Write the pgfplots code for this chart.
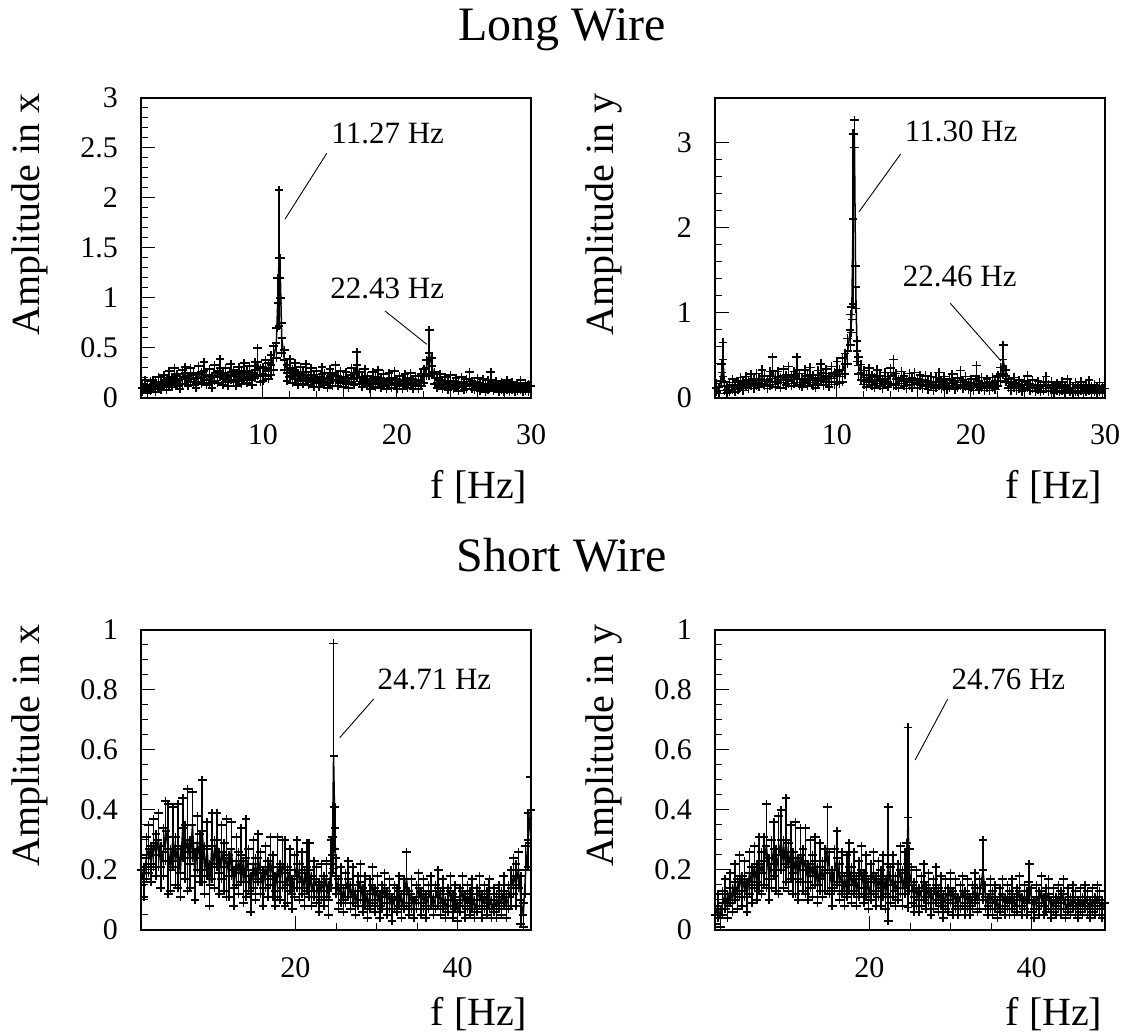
\documentclass[border=0pt]{standalone}
\usepackage{fontspec}
\setmainfont{Liberation Serif}
\usepackage{pgfplots}
\usepackage{pgfplotstable}
\pgfplotsset{compat=1.18}

% long wire, x
\pgfplotstableread{
f a e
1.0 0.10 0.04
1.2 0.13 0.05
1.4 0.09 0.04
1.6 0.12 0.05
1.8 0.14 0.04
2.0 0.11 0.05
2.2 0.15 0.06
2.4 0.12 0.04
2.6 0.17 0.06
2.8 0.13 0.05
3.0 0.20 0.07
3.2 0.16 0.05
3.4 0.22 0.08
3.6 0.18 0.06
3.8 0.14 0.05
4.0 0.21 0.07
4.2 0.25 0.06
4.4 0.17 0.05
4.6 0.23 0.07
4.8 0.19 0.06
5.0 0.15 0.05
5.2 0.24 0.08
5.4 0.20 0.06
5.6 0.27 0.09
5.8 0.18 0.05
6.0 0.22 0.07
6.2 0.16 0.06
6.4 0.25 0.08
6.6 0.21 0.06
6.8 0.30 0.09
7.0 0.19 0.06
7.2 0.23 0.07
7.4 0.17 0.05
7.6 0.26 0.08
7.8 0.22 0.06
8.0 0.18 0.06
8.2 0.24 0.07
8.4 0.20 0.06
8.6 0.27 0.08
8.8 0.21 0.06
9.0 0.25 0.07
9.2 0.19 0.06
9.4 0.28 0.08
9.6 0.36 0.14
9.8 0.23 0.07
10.0 0.24 0.07
10.2 0.30 0.08
10.4 0.27 0.08
10.6 0.33 0.10
10.8 0.40 0.12
11.0 0.55 0.15
11.1 0.95 0.25
11.2 1.40 0.68
11.3 1.20 0.20
11.4 0.60 0.15
11.6 0.38 0.10
11.8 0.25 0.08
12.0 0.30 0.09
12.2 0.22 0.07
12.4 0.27 0.08
12.6 0.19 0.06
12.8 0.24 0.07
13.0 0.20 0.06
13.2 0.26 0.08
13.4 0.18 0.05
13.6 0.23 0.07
13.8 0.17 0.06
14.0 0.21 0.06
14.2 0.16 0.05
14.4 0.24 0.07
14.6 0.19 0.06
14.8 0.15 0.05
15.0 0.22 0.07
15.2 0.18 0.06
15.4 0.25 0.08
15.6 0.17 0.05
15.8 0.21 0.06
16.0 0.16 0.05
16.2 0.20 0.06
16.4 0.15 0.05
16.6 0.23 0.07
16.8 0.19 0.06
17.0 0.33 0.13
17.2 0.20 0.06
17.4 0.16 0.05
17.6 0.22 0.07
17.8 0.17 0.05
18.0 0.14 0.05
18.2 0.20 0.06
18.4 0.16 0.05
18.6 0.21 0.07
18.8 0.15 0.05
19.0 0.18 0.06
19.2 0.13 0.04
19.4 0.19 0.06
19.6 0.15 0.05
19.8 0.20 0.07
20.0 0.14 0.05
20.2 0.17 0.05
20.4 0.13 0.04
20.6 0.18 0.06
20.8 0.15 0.05
21.0 0.19 0.06
21.2 0.14 0.05
21.4 0.17 0.05
21.6 0.13 0.04
21.8 0.18 0.06
22.0 0.22 0.07
22.2 0.30 0.08
22.4 0.45 0.23
22.6 0.32 0.08
22.8 0.20 0.06
23.0 0.15 0.05
23.2 0.18 0.06
23.4 0.13 0.04
23.6 0.16 0.05
23.8 0.12 0.04
24.0 0.17 0.06
24.2 0.13 0.04
24.4 0.15 0.05
24.6 0.11 0.04
24.8 0.16 0.05
25.0 0.12 0.04
25.2 0.14 0.05
25.4 0.19 0.07
25.6 0.13 0.04
25.8 0.12 0.04
26.0 0.15 0.05
26.2 0.11 0.04
26.4 0.14 0.05
26.6 0.10 0.04
26.8 0.13 0.05
27.0 0.18 0.08
27.2 0.11 0.04
27.4 0.13 0.04
27.6 0.10 0.04
27.8 0.12 0.04
28.0 0.09 0.03
28.2 0.13 0.05
28.4 0.10 0.04
28.6 0.12 0.04
28.8 0.09 0.03
29.0 0.11 0.04
29.2 0.13 0.05
29.4 0.09 0.03
29.6 0.11 0.04
29.8 0.10 0.04
30.0 0.12 0.04
}\longx

% long wire, y
\pgfplotstableread{
f a e
1.0 0.12 0.05
1.2 0.09 0.04
1.4 0.30 0.10
1.5 0.45 0.20
1.6 0.14 0.05
1.8 0.10 0.04
2.0 0.13 0.05
2.2 0.16 0.06
2.4 0.11 0.04
2.6 0.15 0.05
2.8 0.18 0.06
3.0 0.14 0.05
3.2 0.19 0.06
3.4 0.16 0.05
3.6 0.21 0.07
3.8 0.17 0.06
4.0 0.22 0.07
4.2 0.18 0.05
4.4 0.25 0.08
4.6 0.20 0.06
4.8 0.16 0.05
5.0 0.23 0.08
5.2 0.32 0.16
5.4 0.19 0.06
5.6 0.24 0.07
5.8 0.18 0.06
6.0 0.26 0.08
6.2 0.21 0.06
6.4 0.27 0.10
6.6 0.20 0.06
6.8 0.24 0.07
7.0 0.33 0.15
7.2 0.22 0.07
7.4 0.18 0.05
7.6 0.25 0.08
7.8 0.20 0.06
8.0 0.27 0.09
8.2 0.21 0.06
8.4 0.17 0.05
8.6 0.24 0.08
8.8 0.30 0.10
9.0 0.22 0.07
9.2 0.26 0.08
9.4 0.19 0.06
9.6 0.28 0.09
9.8 0.23 0.07
10.0 0.31 0.12
10.2 0.25 0.08
10.4 0.33 0.14
10.6 0.40 0.12
10.8 0.55 0.15
11.0 0.80 0.18
11.1 0.92 0.15
11.2 2.10 1.00
11.3 3.10 0.16
11.4 1.30 0.25
11.5 0.55 0.12
11.6 0.38 0.10
11.8 0.30 0.09
12.0 0.24 0.08
12.2 0.20 0.07
12.4 0.27 0.08
12.6 0.21 0.06
12.8 0.18 0.06
13.0 0.25 0.08
13.2 0.20 0.06
13.4 0.16 0.05
13.6 0.23 0.07
13.8 0.19 0.06
14.0 0.26 0.09
14.2 0.30 0.15
14.4 0.22 0.07
14.6 0.17 0.05
14.8 0.24 0.07
15.0 0.20 0.06
15.2 0.16 0.05
15.4 0.22 0.07
15.6 0.18 0.06
15.8 0.23 0.07
16.0 0.17 0.05
16.2 0.21 0.06
16.4 0.16 0.05
16.6 0.20 0.06
16.8 0.15 0.05
17.0 0.19 0.06
17.2 0.14 0.05
17.4 0.18 0.06
17.6 0.22 0.08
17.8 0.16 0.05
18.0 0.19 0.06
18.2 0.14 0.04
18.4 0.17 0.05
18.6 0.21 0.07
18.8 0.15 0.05
19.0 0.18 0.06
19.2 0.23 0.09
19.4 0.16 0.05
19.6 0.19 0.06
19.8 0.14 0.04
20.0 0.17 0.05
20.2 0.13 0.04
20.4 0.26 0.12
20.6 0.15 0.05
20.8 0.18 0.06
21.0 0.13 0.04
21.2 0.17 0.05
21.4 0.14 0.05
21.6 0.18 0.06
21.8 0.15 0.05
22.0 0.20 0.06
22.2 0.28 0.08
22.4 0.45 0.17
22.6 0.26 0.07
22.8 0.17 0.05
23.0 0.14 0.05
23.2 0.18 0.06
23.4 0.13 0.04
23.6 0.16 0.05
23.8 0.12 0.04
24.0 0.15 0.05
24.2 0.19 0.07
24.4 0.13 0.04
24.6 0.16 0.05
24.8 0.12 0.04
25.0 0.15 0.05
25.2 0.11 0.04
25.4 0.14 0.05
25.6 0.18 0.07
25.8 0.12 0.04
26.0 0.14 0.05
26.2 0.10 0.04
26.4 0.13 0.04
26.6 0.11 0.04
26.8 0.14 0.05
27.0 0.10 0.04
27.2 0.16 0.06
27.4 0.12 0.04
27.6 0.09 0.03
27.8 0.13 0.05
28.0 0.11 0.04
28.2 0.14 0.05
28.4 0.10 0.04
28.6 0.12 0.04
28.8 0.15 0.06
29.0 0.10 0.04
29.2 0.12 0.04
29.4 0.09 0.03
29.6 0.13 0.05
29.8 0.10 0.04
30.0 0.11 0.04
}\longy

% short wire, x
\pgfplotstableread{
f a e
1.0 0.20 0.05
1.3 0.16 0.05
1.6 0.24 0.07
1.9 0.27 0.08
2.2 0.22 0.06
2.5 0.29 0.08
2.8 0.25 0.07
3.1 0.30 0.09
3.4 0.21 0.07
3.7 0.26 0.08
4.0 0.33 0.10
4.3 0.27 0.15
4.6 0.20 0.07
4.9 0.31 0.10
5.2 0.23 0.08
5.5 0.28 0.14
5.8 0.19 0.08
6.1 0.34 0.10
6.4 0.26 0.09
6.7 0.30 0.17
7.0 0.22 0.08
7.3 0.35 0.11
7.6 0.18 0.08
7.9 0.29 0.09
8.2 0.24 0.08
8.5 0.33 0.17
8.8 0.20 0.08
9.1 0.27 0.09
9.4 0.15 0.07
9.7 0.28 0.11
10.0 0.22 0.08
10.3 0.30 0.09
10.6 0.19 0.07
10.9 0.26 0.09
11.2 0.21 0.08
11.5 0.24 0.13
11.8 0.18 0.07
12.1 0.27 0.09
12.4 0.14 0.06
12.7 0.23 0.08
13.0 0.19 0.07
13.3 0.25 0.09
13.6 0.16 0.07
13.9 0.24 0.13
14.2 0.20 0.07
14.5 0.12 0.06
14.8 0.22 0.08
15.1 0.17 0.07
15.4 0.24 0.08
15.7 0.19 0.07
16.0 0.14 0.06
16.3 0.21 0.07
16.6 0.17 0.06
16.9 0.23 0.08
17.2 0.18 0.07
17.5 0.13 0.05
17.8 0.21 0.10
18.1 0.16 0.06
18.4 0.22 0.08
18.7 0.19 0.11
19.0 0.15 0.06
19.3 0.20 0.07
19.6 0.12 0.05
19.9 0.18 0.07
20.2 0.22 0.08
20.5 0.16 0.06
20.8 0.19 0.07
21.1 0.14 0.06
21.4 0.21 0.08
21.7 0.20 0.09
22.0 0.13 0.05
22.3 0.17 0.06
22.6 0.15 0.06
22.9 0.11 0.05
23.2 0.16 0.06
23.5 0.13 0.05
23.8 0.17 0.06
24.1 0.10 0.05
24.4 0.22 0.08
24.55 0.25 0.06
24.7 0.58 0.375
24.85 0.34 0.07
25.0 0.18 0.06
25.3 0.12 0.05
25.6 0.15 0.06
25.9 0.10 0.04
26.2 0.14 0.05
26.5 0.17 0.06
26.8 0.11 0.04
27.1 0.15 0.06
27.4 0.09 0.04
27.7 0.13 0.05
28.0 0.16 0.06
28.3 0.10 0.04
28.6 0.13 0.05
28.9 0.08 0.04
29.2 0.12 0.05
29.5 0.15 0.06
29.8 0.10 0.04
30.1 0.13 0.05
30.4 0.08 0.04
30.7 0.11 0.04
31.0 0.14 0.05
31.3 0.09 0.04
31.6 0.12 0.05
31.9 0.07 0.04
32.2 0.11 0.04
32.5 0.10 0.04
32.8 0.13 0.05
33.1 0.08 0.04
33.4 0.12 0.05
33.7 0.17 0.09
34.0 0.09 0.04
34.3 0.12 0.05
34.6 0.07 0.03
34.9 0.11 0.04
35.2 0.14 0.05
35.5 0.09 0.04
35.8 0.12 0.05
36.1 0.08 0.04
36.4 0.11 0.04
36.7 0.13 0.05
37.0 0.08 0.03
37.3 0.11 0.04
37.6 0.14 0.06
37.9 0.09 0.04
38.2 0.12 0.05
38.5 0.07 0.03
38.8 0.10 0.04
39.1 0.13 0.05
39.4 0.08 0.04
39.7 0.11 0.04
40.0 0.06 0.03
40.3 0.10 0.04
40.6 0.13 0.05
40.9 0.08 0.04
41.2 0.11 0.04
41.5 0.09 0.04
41.8 0.12 0.05
42.1 0.07 0.03
42.4 0.10 0.04
42.7 0.13 0.05
43.0 0.08 0.04
43.3 0.11 0.04
43.6 0.09 0.04
43.9 0.12 0.05
44.2 0.07 0.03
44.5 0.10 0.04
44.8 0.08 0.04
45.1 0.11 0.04
45.4 0.09 0.04
45.7 0.13 0.05
46.0 0.08 0.04
46.3 0.11 0.04
46.6 0.14 0.06
46.9 0.18 0.06
47.2 0.15 0.07
47.5 0.20 0.06
47.8 0.10 0.08
48.1 0.05 0.04
48.4 0.20 0.08
48.7 0.30 0.09
49.0 0.40 0.11
}\shortx

% short wire, y
\pgfplotstableread{
f a e
1.0 0.05 0.03
1.3 0.08 0.04
1.6 0.04 0.03
1.9 0.09 0.04
2.2 0.12 0.05
2.5 0.08 0.04
2.8 0.14 0.05
3.1 0.10 0.04
3.4 0.16 0.06
3.7 0.12 0.05
4.0 0.18 0.07
4.3 0.13 0.05
4.6 0.17 0.06
4.9 0.11 0.05
5.2 0.19 0.07
5.5 0.15 0.06
5.8 0.21 0.07
6.1 0.16 0.06
6.4 0.22 0.09
6.7 0.19 0.07
7.0 0.23 0.08
7.3 0.28 0.14
7.6 0.17 0.07
7.9 0.22 0.08
8.2 0.27 0.09
8.5 0.20 0.07
8.8 0.25 0.13
9.1 0.30 0.10
9.4 0.22 0.08
9.7 0.30 0.14
10.0 0.21 0.08
10.3 0.26 0.09
10.6 0.19 0.07
10.9 0.24 0.12
11.2 0.17 0.07
11.5 0.25 0.09
11.8 0.20 0.07
12.1 0.23 0.11
12.4 0.16 0.06
12.7 0.22 0.08
13.0 0.18 0.07
13.3 0.23 0.08
13.6 0.15 0.06
13.9 0.21 0.08
14.2 0.17 0.06
14.5 0.20 0.07
14.8 0.27 0.14
15.1 0.19 0.07
15.4 0.14 0.06
15.7 0.20 0.07
16.0 0.24 0.09
16.3 0.16 0.06
16.6 0.19 0.07
16.9 0.13 0.05
17.2 0.18 0.07
17.5 0.21 0.08
17.8 0.15 0.06
18.1 0.19 0.07
18.4 0.13 0.05
18.7 0.17 0.06
19.0 0.20 0.08
19.3 0.14 0.05
19.6 0.18 0.07
19.9 0.12 0.05
20.2 0.16 0.06
20.5 0.19 0.07
20.8 0.13 0.05
21.1 0.17 0.06
21.4 0.14 0.06
21.7 0.18 0.07
22.0 0.12 0.05
22.3 0.22 0.19
22.6 0.15 0.06
22.9 0.18 0.07
23.2 0.13 0.05
23.5 0.16 0.06
23.8 0.20 0.08
24.1 0.14 0.06
24.4 0.19 0.07
24.6 0.22 0.07
24.76 0.375 0.30
24.9 0.20 0.07
25.2 0.15 0.06
25.5 0.11 0.05
25.8 0.14 0.06
26.1 0.10 0.04
26.4 0.13 0.05
26.7 0.16 0.06
27.0 0.11 0.04
27.3 0.14 0.05
27.6 0.09 0.04
27.9 0.12 0.05
28.2 0.15 0.06
28.5 0.10 0.04
28.8 0.13 0.05
29.1 0.08 0.04
29.4 0.12 0.05
29.7 0.10 0.04
30.0 0.14 0.05
30.3 0.09 0.04
30.6 0.12 0.05
30.9 0.08 0.03
31.2 0.11 0.04
31.5 0.13 0.05
31.8 0.09 0.04
32.1 0.12 0.05
32.4 0.08 0.03
32.7 0.11 0.04
33.0 0.14 0.05
33.3 0.10 0.04
33.6 0.12 0.05
34.0 0.20 0.10
34.3 0.11 0.04
34.6 0.08 0.03
34.9 0.12 0.05
35.2 0.09 0.04
35.5 0.11 0.04
35.8 0.07 0.03
36.1 0.10 0.04
36.4 0.12 0.05
36.7 0.08 0.03
37.0 0.11 0.04
37.3 0.09 0.04
37.6 0.12 0.05
37.9 0.08 0.03
38.2 0.10 0.04
38.5 0.13 0.05
38.8 0.08 0.03
39.1 0.11 0.04
39.4 0.09 0.04
39.7 0.16 0.06
40.0 0.10 0.04
40.3 0.07 0.03
40.6 0.11 0.04
40.9 0.09 0.04
41.2 0.13 0.05
41.5 0.08 0.03
41.8 0.10 0.04
42.1 0.12 0.05
42.4 0.07 0.03
42.7 0.10 0.04
43.0 0.08 0.03
43.3 0.11 0.04
43.6 0.09 0.04
43.9 0.12 0.05
44.2 0.07 0.03
44.5 0.10 0.04
44.8 0.08 0.03
45.1 0.11 0.04
45.4 0.09 0.04
45.7 0.07 0.03
46.0 0.10 0.04
46.3 0.08 0.03
46.6 0.11 0.04
46.9 0.09 0.04
47.2 0.07 0.03
47.5 0.10 0.04
47.8 0.08 0.03
48.1 0.11 0.04
48.4 0.09 0.04
48.7 0.07 0.03
49.0 0.09 0.04
}\shorty

\pgfplotsset{
  rootpanel/.style={
    scale only axis, width=195pt, height=150pt,
    anchor=south west,
    axis line style={line width=0.7pt},
    tick align=inside, xtick pos=left, ytick pos=left,
    major tick length=7pt, minor tick length=3.5pt,
    every tick/.style={line width=0.5pt, black},
    /pgf/number format/assume math mode=true,
    tick label style={font=\fontsize{15}{15}\selectfont},
    xticklabel style={yshift=-10pt},
    yticklabel style={xshift=-8pt},
  },
  spec/.style={black, line width=0.75pt, mark=-, mark size=2pt,
    mark options={line width=0.75pt},
    error bars/.cd, y dir=both, y explicit, error mark=+,
    error bar style={line width=0.75pt},
    error mark options={mark size=2.2pt, line width=0.75pt, black}},
}
\tikzset{note/.style={anchor=base west, inner sep=0pt, font=\fontsize{15.5}{15.5}\selectfont}}

\begin{document}
\begin{tikzpicture}
\path[use as bounding box] (0,0) rectangle (560.5pt,518pt);

% Long wire, x
\begin{axis}[rootpanel, at={(70.5pt,319pt)},
  xmin=0.9, xmax=30, ymin=0, ymax=3,
  xtick={10,20,30}, minor x tick num=4,
  ytick={0,0.5,...,3}, minor y tick num=4]
\addplot[spec] table[x=f, y=a, y error=e] {\longx};
\node[note] at (axis cs:15.08,2.547) {11.27 Hz};
\draw[line width=0.45pt] (axis cs:14.76,2.447) -- (axis cs:11.64,1.787);
\node[note] at (axis cs:15.0,0.997) {22.43 Hz};
\draw[line width=0.45pt] (axis cs:19.11,0.87) -- (axis cs:22.22,0.537);
\end{axis}

% Long wire, y
\begin{axis}[rootpanel, at={(357.5pt,319pt)},
  xmin=0.9, xmax=30, ymin=0, ymax=3.52,
  xtick={10,20,30}, minor x tick num=4,
  ytick={0,1,2,3}, minor y tick num=4]
\addplot[spec] table[x=f, y=a, y error=e] {\longy};
\node[note] at (axis cs:15.04,3.005) {11.30 Hz};
\draw[line width=0.45pt] (axis cs:14.74,2.86) -- (axis cs:11.64,2.184);
\node[note] at (axis cs:14.89,1.313) {22.46 Hz};
\draw[line width=0.45pt] (axis cs:18.46,1.11) -- (axis cs:22.24,0.434);
\end{axis}

% Short wire, x
\begin{axis}[rootpanel, at={(70.5pt,53pt)},
  xmin=0.95, xmax=49.05, ymin=0, ymax=1,
  xtick={20,40}, minor x tick num=3,
  ytick={0,0.2,...,1}, minor y tick num=3]
\addplot[spec] table[x=f, y=a, y error=e] {\shortx};
\node[note] at (axis cs:30.07,0.8) {24.71 Hz};
\draw[line width=0.45pt] (axis cs:29.65,0.77) -- (axis cs:25.46,0.641);
\end{axis}

% Short wire, y
\begin{axis}[rootpanel, at={(357.5pt,53pt)},
  xmin=0.95, xmax=49.05, ymin=0, ymax=1,
  xtick={20,40}, minor x tick num=3,
  ytick={0,0.2,...,1}, minor y tick num=3]
\addplot[spec] table[x=f, y=a, y error=e] {\shorty};
\node[note] at (axis cs:30.07,0.8) {24.76 Hz};
\draw[line width=0.45pt] (axis cs:29.65,0.77) -- (axis cs:25.64,0.567);
\end{axis}

% titles and axis labels
\node[anchor=base, inner sep=0pt, font=\fontsize{24}{24}\selectfont] at (281pt,497.5pt) {Long Wire};
\node[anchor=base, inner sep=0pt, font=\fontsize{24}{24}\selectfont] at (281pt,232pt) {Short Wire};
\begin{scope}[every node/.style={inner sep=0pt, font=\fontsize{20}{20}\selectfont}]
\node[rotate=90, anchor=base east] at (19.65pt,471.5pt) {Amplitude in x};
\node[rotate=90, anchor=base east] at (306.65pt,471.5pt) {Amplitude in y};
\node[rotate=90, anchor=base east] at (19.65pt,206pt) {Amplitude in x};
\node[rotate=90, anchor=base east] at (306.65pt,206pt) {Amplitude in y};
\node[anchor=base east] at (263.85pt,268.5pt) {f [Hz]};
\node[anchor=base east] at (551.35pt,268.5pt) {f [Hz]};
\node[anchor=base east] at (263.85pt,5pt) {f [Hz]};
\node[anchor=base east] at (551.35pt,5pt) {f [Hz]};
\end{scope}
\end{tikzpicture}
\end{document}
